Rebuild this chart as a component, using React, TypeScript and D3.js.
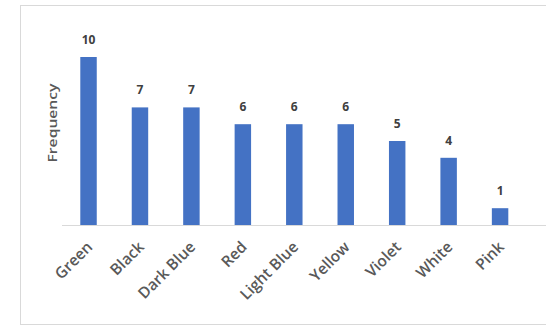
import React from "react";
import * as d3 from "d3";

const categories = ["Green", "Black", "Dark Blue", "Red", "Light Blue", "Yellow", "Violet", "White", "Pink"];
const frequencies = [10, 7, 7, 6, 6, 6, 5, 4, 1];
const yAxisTitle = "Frequency";

const W = 546;
const H = 326;

export default function App() {
  const x = d3.scaleBand<string>().domain(categories).range([62.8, 525.8]).paddingInner(0.68).paddingOuter(0.34);
  const y = d3.scaleLinear().domain([0, 12]).range([225, 23.4]);
  const baseline = y(0);
  const font = "'Open Sans', sans-serif";

  return (
    <svg width={W} height={H} style={{ position: "absolute", left: 0, top: 0, background: "#fff" }}>
      <rect x={20.5} y={5.5} width={700} height={319} fill="#fff" stroke="#d9d9d9" strokeWidth={1} />
      <line x1={62} x2={W} y1={baseline + 0.5} y2={baseline + 0.5} stroke="#d9d9d9" strokeWidth={1} />
      {categories.map((c, i) => {
        const bx = x(c)!;
        const bw = x.bandwidth();
        const v = frequencies[i];
        const cx = bx + bw / 2;
        return (
          <g key={c}>
            <rect x={bx} y={y(v)} width={bw} height={baseline - y(v)} fill="#4472C4" />
            <text x={cx} y={y(v) - 13} textAnchor="middle" fontFamily={font} fontSize={12} fontWeight={700} fill="#404040">
              {v}
            </text>
            <text
              transform={`translate(${cx + 5},${baseline + 23}) rotate(-45)`}
              textAnchor="end"
              fontFamily={font}
              fontSize={15.5}
              fontWeight={600}
              fill="#595959"
            >
              {c}
            </text>
          </g>
        );
      })}
      <text
        transform={`translate(${56.5},${123}) rotate(-90)`}
        textAnchor="middle"
        fontFamily={font}
        fontSize={13}
        fontWeight={600}
        fill="#595959"
        textLength={79}
        lengthAdjust="spacingAndGlyphs"
      >
        {yAxisTitle}
      </text>
    </svg>
  );
}
